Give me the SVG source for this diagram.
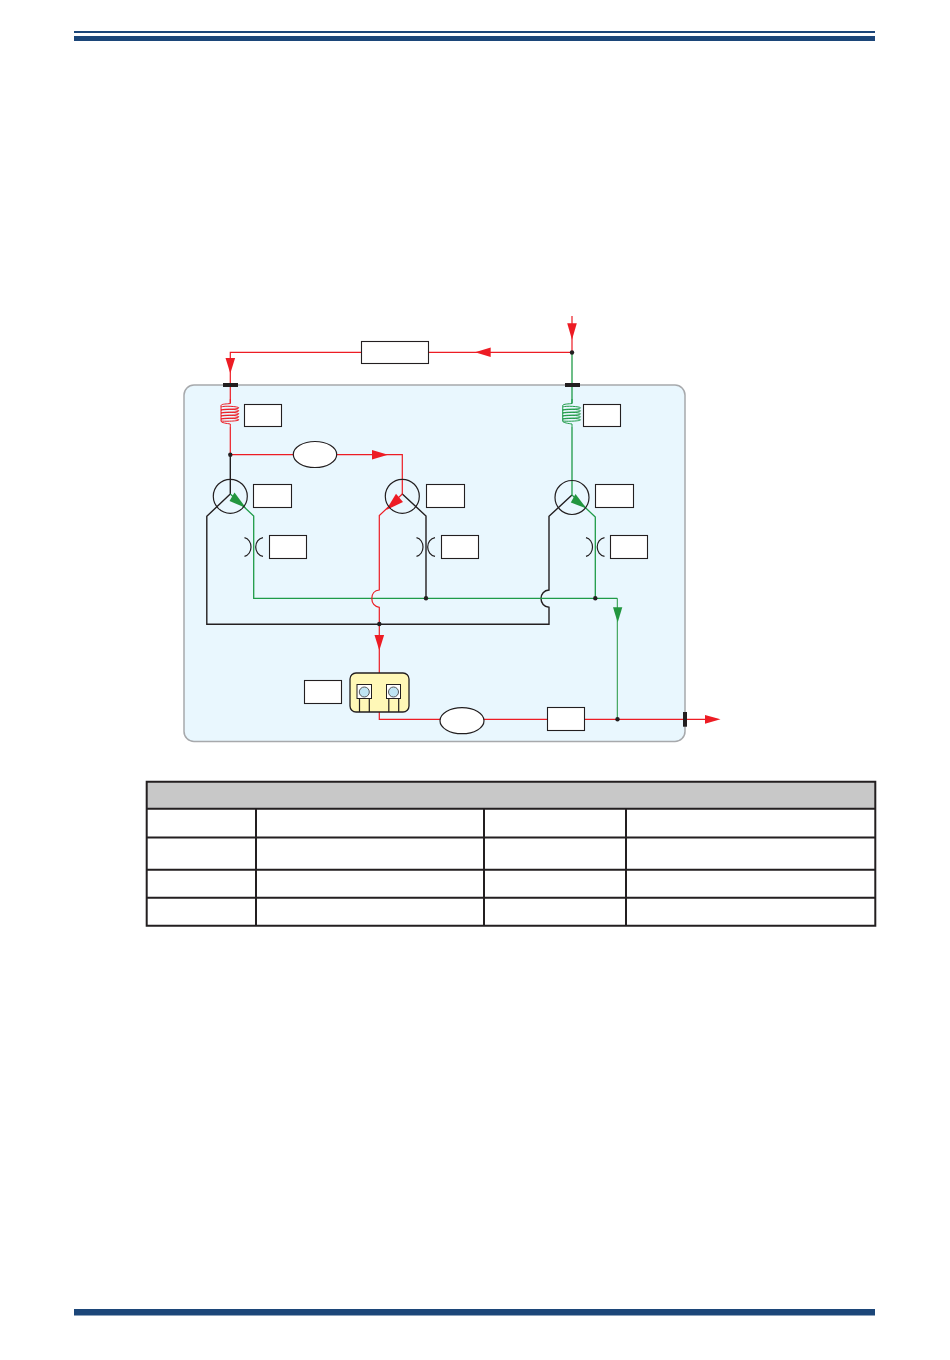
<svg xmlns="http://www.w3.org/2000/svg" width="950" height="1360" viewBox="0 0 950 1360">
<style>
.w{fill:none;stroke-linejoin:miter}
.r{stroke:#ed1c24;stroke-width:1.2}
.g{stroke:#1f9b48;stroke-width:1.3}
.k{stroke:#231f20;stroke-width:1.4}
.box{fill:#fff;stroke:#231f20;stroke-width:1.1}
.circ{fill:none;stroke:#231f20;stroke-width:1.2}
.dot{fill:#231f20}
.bar{fill:#231f20}
.ar{fill:#ed1c24}
.ag{fill:#22963f}
.tb{fill:none;stroke:#231f20;stroke-width:2}
.rs{fill:none;stroke:#231f20;stroke-width:1.2}
</style>
<defs>
<g id="coil" fill="none" stroke-width="1">
<path d="M0 0V4.500C-3 5 -8.800 4.800 -9.300 6.500C-9.800 8 -9 8.500 -9.300 10C-9.600 11.500 -9 12.500 -9.300 14C-9.600 15.500 -9 16.500 -9.300 18C-9.600 19.500 -9 20.500 -9.300 22C-9.500 23.800 -3 24.500 0 25V28"/>
<path d="M-9.300 8C-6 6.500 8 7.500 8.500 8.800C8.800 10.200 -6 10.500 -9.300 11C-6 9.500 8 10.300 8.500 11.800C8.800 13.200 -6 13.500 -9.300 14C-6 12.500 8 13.300 8.500 14.800C8.800 16.200 -6 16.500 -9.300 17C-6 15.500 8 16.300 8.500 17.800C8.800 19.200 -6 19.500 -9.300 20C-6 18.500 8 19.300 8.500 20.800C8.800 22.200 -6 22.500 -9.300 22"/>
</g>
<g id="restrictor"><path class="rs" d="M-9.500 -9.300C-5.500 -8.500 -3 -4.500 -3 0C-3 4.500 -5.500 8.500 -9.500 9.300M9 -9.300C4.500 -8.500 1.700 -4.500 1.700 0C1.700 4.500 4.500 8.500 9 9.300"/></g>
</defs>
<rect width="950" height="1360" fill="#fff"/>
<g id="page-rules" fill="#1c4679">
<rect x="74" y="31" width="801" height="2"/>
<rect x="74" y="36" width="801" height="5"/>
<rect x="74" y="1309" width="801" height="6.500"/>
</g>
<g id="panel"><rect x="184" y="385" width="501" height="356.500" rx="10" fill="#e9f7fe" stroke="#a7a9ac" stroke-width="1.500"/></g>
<g id="connectors">
<path class="w r" d="M572 316V352.300H230.300V403.500"/>
<path class="w g" d="M572 352.300V403.500"/>
<path class="w r" d="M230.300 427V454.700H402.300V494"/>
<path class="w k" d="M230.300 454.700V494L206.800 516.300V624.300H549V607.300C544 607 541 603 541 598.600C541 594 544 590.300 549 590V516.300L572 495"/>
<path class="w g" d="M572 427V495L595.300 517V598.300"/>
<path class="w g" d="M230.300 494L253.700 516V598.300H617.300"/>
<path class="w" stroke="#22963f" d="M617.300 598.300V719.300"/>
<path class="w k" d="M402.300 494L426 516V598.300"/>
<path class="w r" d="M402.300 494L379.300 515.500V590C374.500 590.300 371.800 594 371.800 598.600C371.800 603 374.500 607 379.300 607.300V673"/>
<path class="w r" d="M379.300 712V719.300H705"/>
<g id="arrowheads">
<path class="ar" d="M225.500 358H235.100L230.300 373.500Z"/>
<path class="ar" d="M567.200 323.300H576.800L572 339.800Z"/>
<path class="ar" d="M475 352.300L490.700 347.500V357.100Z"/>
<path class="ar" d="M388 454.700L372 450V459.400Z"/>
<path class="ar" d="M374.500 635H384.100L379.300 650.500Z"/>
<path class="ar" d="M720.500 719.300L705 714.900V723.700Z"/>
<path class="ag" d="M617.700 622.500L613 607.300H622.300Z"/>
<path class="ag" d="M234.500 492.500L229.500 501L246 508Z"/>
<path class="ag" d="M575.500 494L570.800 502.500L586.500 508.500Z"/>
<path class="ar" d="M396 493.800L403 502L386.200 510Z"/>
</g>
<g id="junctions">
<circle class="dot" cx="230.300" cy="454.700" r="2.200"/>
<circle class="dot" cx="572" cy="352.500" r="2.200"/>
<circle class="dot" cx="426" cy="598.300" r="2.200"/>
<circle class="dot" cx="595.300" cy="598.300" r="2.200"/>
<circle class="dot" cx="379.300" cy="624" r="2.200"/>
<circle class="dot" cx="617.500" cy="719.300" r="2.200"/>
</g>
</g>
<g id="port-left"><rect class="bar" x="223" y="383" width="15" height="4"/></g>
<g id="port-right"><rect class="bar" x="565" y="383" width="15" height="4"/></g>
<g id="port-out"><rect class="bar" x="683" y="712" width="4" height="14.700"/></g>
<g id="coil-red"><use href="#coil" x="230.300" y="399" stroke="#ed1c24"/></g>
<g id="coil-green"><use href="#coil" x="572" y="399" stroke="#1f9b48"/></g>
<g id="node-top-box"><rect class="box" x="361.500" y="341.500" width="67" height="22"/></g>
<g id="label-coil-l"><rect class="box" x="244.500" y="404.500" width="37" height="22"/></g>
<g id="label-coil-r"><rect class="box" x="583.500" y="404.500" width="37" height="22"/></g>
<g id="ellipse-top"><ellipse cx="315" cy="454.500" rx="21.700" ry="13" fill="#fff" stroke="#231f20" stroke-width="1.200"/></g>
<g id="valve-1"><circle class="circ" cx="230.300" cy="496.300" r="17"/><rect class="box" x="253.500" y="484.500" width="38" height="23"/></g>
<g id="valve-2"><circle class="circ" cx="402.300" cy="496.300" r="17"/><rect class="box" x="426.500" y="484.500" width="38" height="23"/></g>
<g id="valve-3"><circle class="circ" cx="572" cy="497.500" r="17"/><rect class="box" x="595.500" y="484.500" width="38" height="23"/></g>
<g id="restrictor-1"><use href="#restrictor" x="254" y="547"/><rect class="box" x="269.500" y="535.500" width="37" height="23"/></g>
<g id="restrictor-2"><use href="#restrictor" x="426" y="547"/><rect class="box" x="441.500" y="535.500" width="37" height="23"/></g>
<g id="restrictor-3"><use href="#restrictor" x="595.500" y="547"/><rect class="box" x="610.500" y="535.500" width="37" height="23"/></g>
<g id="sensor-label"><rect class="box" x="304.500" y="680.500" width="37" height="23"/></g>
<g id="sensor">
<rect x="350" y="673" width="59" height="39" rx="6" fill="#fff8b7" stroke="#231f20" stroke-width="1.300"/>
<rect x="357" y="684.500" width="14.500" height="14" fill="#fff" stroke="#231f20"/>
<circle cx="364.300" cy="692" r="5" fill="#bfe4f3" stroke="#58595b"/>
<path class="rs" d="M359.500 698.500V712M369.300 698.500V712"/>
<rect x="386.500" y="684.500" width="14" height="14" fill="#fff" stroke="#231f20"/>
<circle cx="393.500" cy="692" r="5" fill="#bfe4f3" stroke="#58595b"/>
<path class="rs" d="M388.800 698.500V712M398.700 698.500V712"/>
</g>
<g id="ellipse-bottom"><ellipse cx="462" cy="720.700" rx="22" ry="13" fill="#fff" stroke="#231f20" stroke-width="1.200"/></g>
<g id="box-bottom"><rect class="box" x="547.500" y="707.500" width="37" height="23"/></g>
<g id="table">
<rect x="147" y="782" width="728" height="26.700" fill="#c8c8c8"/>
<path class="tb" d="M146.700 781.700H875.300V925.700H146.700ZM146.700 808.700H875.300M146.700 837.500H875.300M146.700 869.700H875.300M146.700 897.700H875.300M256 808.700V925.700M484 808.700V925.700M626 808.700V925.700"/>
</g>
</svg>
